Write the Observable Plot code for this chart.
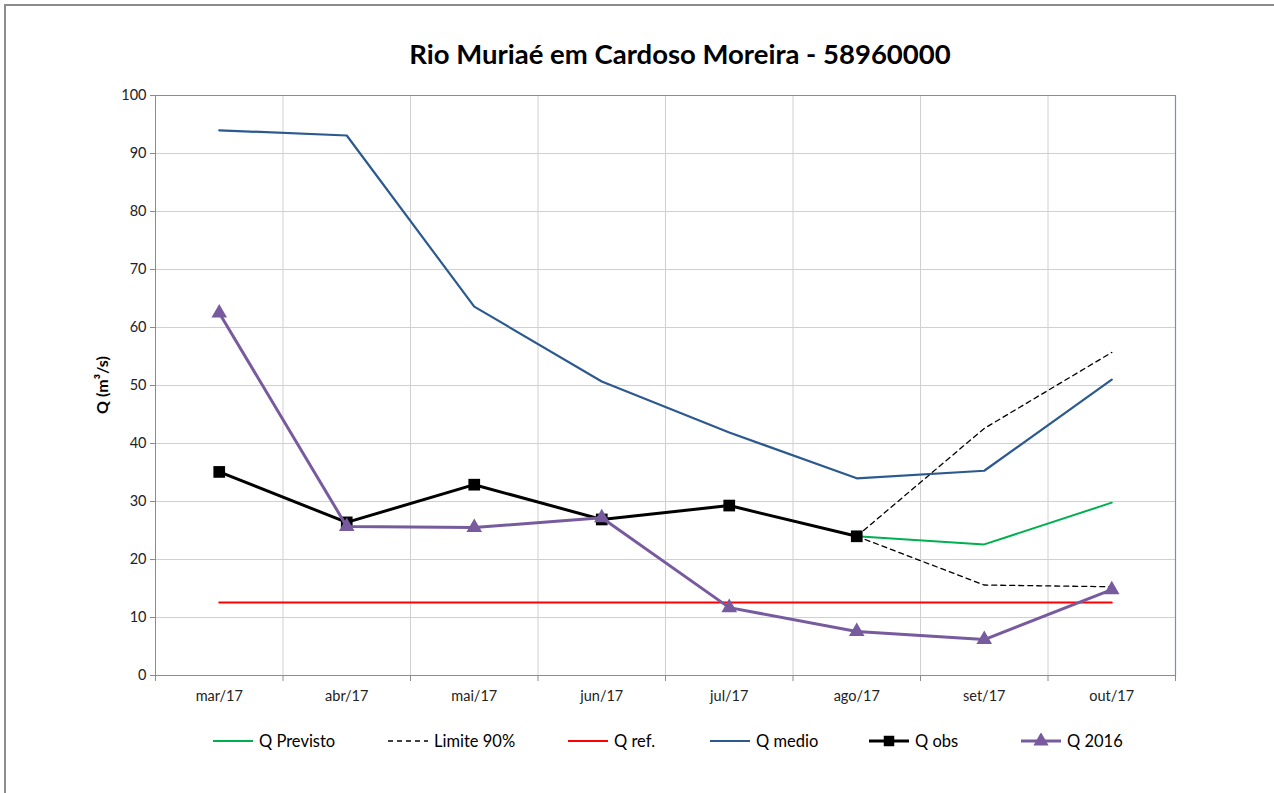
<!DOCTYPE html>
<html><head><meta charset="utf-8">
<script src="https://cdn.jsdelivr.net/npm/d3@7"></script>
<script src="https://cdn.jsdelivr.net/npm/@observablehq/plot@0.6"></script>
<style>
body{margin:0;background:#fff;font-family:Lato,"Open Sans",sans-serif;}
#wrap{position:relative;width:1274px;height:793px;overflow:hidden;background:#fff;}
#border{position:absolute;left:4px;top:4px;width:1400px;height:900px;border-left:2px solid #8c8c8c;border-top:2px solid #8c8c8c;}
#title{position:absolute;top:37px;left:155px;width:1050px;text-align:center;font-weight:bold;font-size:27.5px;color:#000;}
#chart{position:absolute;top:70px;left:0;}
#ylabel{position:absolute;left:101px;top:385px;transform:translate(-50%,-50%) rotate(-90deg);white-space:nowrap;font-weight:bold;font-size:16px;color:#000;}
.leg{position:absolute;top:731px;height:20px;display:flex;align-items:center;font-size:16.5px;color:#000;white-space:nowrap;}
.leg svg{margin-right:5px;}
</style></head>
<body><div id="wrap"><div id="border"></div>
<div id="title">Rio Muriaé em Cardoso Moreira - 58960000</div>
<div id="chart"></div>
<div id="ylabel">Q (m³/s)</div>
<div id="legend"></div>
</div>
<script>
const categories = ["mar/17","abr/17","mai/17","jun/17","jul/17","ago/17","set/17","out/17"];
const qPrevisto = [null, null, null, null, null, 24.0, 22.6, 29.8];
const lim90Sup  = [null, null, null, null, null, 24.0, 42.6, 55.7];
const lim90Inf  = [null, null, null, null, null, 24.0, 15.6, 15.3];
const qRef      = [12.6, 12.6, 12.6, 12.6, 12.6, 12.6, 12.6, 12.6];
const qMedio    = [94.0, 93.1, 63.6, 50.7, 41.9, 34.0, 35.3, 51.0];
const qObs      = [35.1, 26.4, 32.9, 26.9, 29.3, 24.0, null, null];
const q2016     = [62.5, 25.7, 25.5, 27.2, 11.7, 7.6, 6.2, 14.8];
const yTicks = [0,10,20,30,40,50,60,70,80,90,100];
const seriesNames = ["Q Previsto","Limite 90%","Q ref.","Q medio","Q obs","Q 2016"];

const idx = categories.map((_, i) => i);
const bounds = d3.range(categories.length + 1).map(i => i - 0.5);
const rows = arr => arr.map((v, i) => ({i, v})).filter(d => d.v != null);

const C = {prev:"#00b050", ref:"#ff0000", medio:"#2c5a8f", obs:"#000000", q16:"#775b9e", lim:"#000000"};

const plot = Plot.plot({
  width: 1274, height: 650,
  marginTop: 25, marginBottom: 45, marginLeft: 155, marginRight: 99,
  style: {fontFamily: "Lato, 'Open Sans', sans-serif", fontSize: "14.5px", color: "#222", background: "transparent"},
  x: {type: "linear", domain: [-0.5, categories.length - 0.5]},
  y: {domain: [0, 100]},
  marks: [
    Plot.gridY(yTicks.filter(t => t > 0 && t < 100), {stroke: "#d0d0d0", strokeOpacity: 1}),
    Plot.gridX(bounds.slice(1, -1), {stroke: "#d0d0d0", strokeOpacity: 1}),
    Plot.ruleY([100], {stroke: "#7090c0", strokeWidth: 1.2}),
    Plot.ruleX([categories.length - 0.5], {stroke: "#7090c0", strokeWidth: 1.2}),
    Plot.ruleX([-0.5], {stroke: "#8c8c8c"}),
    Plot.ruleY([0], {stroke: "#8c8c8c"}),
    Plot.axisY({ticks: yTicks, tickSize: 5, tickPadding: 4, stroke: "#8c8c8c", fill: "#222", label: null}),
    Plot.axisX({ticks: bounds, tickSize: 6, tickFormat: () => "", stroke: "#8c8c8c", label: null}),
    Plot.axisX({ticks: idx, tickSize: 0, tickPadding: 15, tickFormat: i => categories[i], fill: "#222", label: null}),
    Plot.line(rows(qPrevisto), {x: "i", y: "v", stroke: C.prev, strokeWidth: 2}),
    Plot.line(rows(lim90Sup), {x: "i", y: "v", stroke: C.lim, strokeWidth: 1.3, strokeDasharray: "5,4"}),
    Plot.line(rows(lim90Inf), {x: "i", y: "v", stroke: C.lim, strokeWidth: 1.3, strokeDasharray: "5,4"}),
    Plot.line(rows(qRef), {x: "i", y: "v", stroke: C.ref, strokeWidth: 2}),
    Plot.line(rows(qMedio), {x: "i", y: "v", stroke: C.medio, strokeWidth: 2.2}),
    Plot.line(rows(qObs), {x: "i", y: "v", stroke: C.obs, strokeWidth: 3}),
    Plot.dot(rows(qObs), {x: "i", y: "v", symbol: "square", r: 6.6, fill: C.obs, stroke: "none"}),
    Plot.line(rows(q2016), {x: "i", y: "v", stroke: C.q16, strokeWidth: 3}),
    Plot.dot(rows(q2016), {x: "i", y: "v", symbol: "triangle", r: 5.8, fill: C.q16, stroke: "none"})
  ]
});
document.getElementById("chart").appendChild(plot);

// legend
const legendSpec = [
  {name: seriesNames[0], color: C.prev, left: 212, w: 2},
  {name: seriesNames[1], color: C.lim, left: 387, w: 1.3, dash: "5,4"},
  {name: seriesNames[2], color: C.ref, left: 567, w: 2},
  {name: seriesNames[3], color: C.medio, left: 709, w: 2},
  {name: seriesNames[4], color: C.obs, left: 868, w: 3, sym: "square"},
  {name: seriesNames[5], color: C.q16, left: 1020, w: 3, sym: "triangle"}
];
const leg = document.getElementById("legend");
legendSpec.forEach(s => {
  const div = document.createElement("div");
  div.className = "leg";
  div.style.left = s.left + "px";
  const ns = "http://www.w3.org/2000/svg";
  const svg = document.createElementNS(ns, "svg");
  svg.setAttribute("width", 42); svg.setAttribute("height", 16);
  const ln = document.createElementNS(ns, "line");
  ln.setAttribute("x1", 1); ln.setAttribute("x2", 41); ln.setAttribute("y1", 8); ln.setAttribute("y2", 8);
  ln.setAttribute("stroke", s.color); ln.setAttribute("stroke-width", s.w);
  if (s.dash) ln.setAttribute("stroke-dasharray", s.dash);
  svg.appendChild(ln);
  if (s.sym) {
    const p = document.createElementNS(ns, "path");
    const sym = s.sym === "square" ? d3.symbolSquare : d3.symbolTriangle;
    p.setAttribute("d", d3.symbol(sym, s.sym === "square" ? 110 : 100)());
    p.setAttribute("transform", "translate(21,8)");
    p.setAttribute("fill", s.color);
    svg.appendChild(p);
  }
  div.appendChild(svg);
  const t = document.createElement("span");
  t.textContent = s.name;
  div.appendChild(t);
  leg.appendChild(div);
});
</script>
</body></html>
